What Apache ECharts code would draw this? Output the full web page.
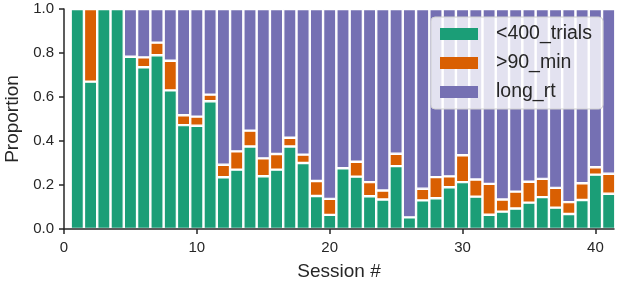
<!DOCTYPE html>
<html>
<head>
    <meta charset="utf-8">
    <title>Session proportions</title>
    <script src="https://cdn.jsdelivr.net/npm/echarts@6/dist/echarts.min.js"></script>
    <style>
        html, body { margin: 0; padding: 0; background: #fff; }
        #main { width: 617px; height: 287px; }
    </style>
</head>
<body>
    <div id="main"></div>
    <script type="text/javascript">
        // session numbers 1..41
        var sessions = [1, 2, 3, 4, 5, 6, 7, 8, 9, 10, 11, 12, 13, 14, 15, 16, 17, 18, 19, 20, 21,
            22, 23, 24, 25, 26, 27, 28, 29, 30, 31, 32, 33, 34, 35, 36, 37, 38, 39, 40, 41];
        // fraction of sessions flagged by each reason
        var trials400 = [1.0, 0.67, 1.0, 1.0, 0.783, 0.735, 0.79, 0.63, 0.472, 0.469, 0.581,
            0.235, 0.27, 0.375, 0.24, 0.27, 0.375, 0.30, 0.15, 0.064, 0.276,
            0.238, 0.149, 0.134, 0.286, 0.053, 0.13, 0.14, 0.19, 0.213, 0.147,
            0.065, 0.079, 0.093, 0.12, 0.145, 0.097, 0.068, 0.132, 0.247, 0.16];
        var min90 = [0, 0.33, 0, 0, 0, 0.045, 0.057, 0.135, 0.045, 0.042, 0.03,
            0.057, 0.083, 0.072, 0.081, 0.071, 0.04, 0.038, 0.068, 0.073, 0,
            0.068, 0.064, 0.041, 0.056, 0, 0.053, 0.096, 0.049, 0.122, 0.078,
            0.14, 0.055, 0.077, 0.095, 0.083, 0.09, 0.054, 0.076, 0.034, 0.091];
        var yTicks = [0, 0.2, 0.4, 0.6, 0.8, 1.0];
        var xTicks = [0, 10, 20, 30, 40];

        var longRt = trials400.map(function (v, i) {
            return Math.max(0, +(1 - v - min90[i]).toFixed(3));
        });

        var myChart = echarts.init(document.getElementById('main'));

        // visible axes run 0..41.4; the bars sit in a second grid whose
        // category bands line up with sessions 0.5..41.5 on that scale
        var W = 617, gridLeft = 64, gridRight = 3, xMax = 41.4;
        var unit = (W - gridLeft - gridRight) / xMax;
        var barLeft = gridLeft + (sessions[0] - 0.5) * unit;
        var barRight = W - (barLeft + sessions.length * unit);

        function barSeries(name, color, arr) {
            return {
                name: name,
                type: 'bar',
                stack: 'all',
                xAxisIndex: 1,
                yAxisIndex: 1,
                barWidth: '100%',
                itemStyle: {
                    color: color,
                    borderColor: '#ffffff',
                    borderWidth: 1.2
                },
                emphasis: { disabled: true },
                data: arr
            };
        }

        var textColor = '#262626';
        var font = 'Liberation Sans, Arial, sans-serif';
        var option = {
            animation: false,
            grid: [
                { left: gridLeft, right: gridRight, top: 9, bottom: 58, outerBoundsMode: 'none', containLabel: false },
                { left: barLeft, right: barRight, top: 9, bottom: 58, outerBoundsMode: 'none', containLabel: false }
            ],
            legend: {
                orient: 'vertical',
                left: 431,
                top: 17,
                padding: [7, 11, 7, 9],
                itemWidth: 38,
                itemHeight: 12,
                itemGap: 9,
                icon: 'rect',
                backgroundColor: 'rgba(255,255,255,0.8)',
                borderColor: '#d0d0d0',
                borderWidth: 1,
                borderRadius: 4,
                itemStyle: { borderWidth: 0 },
                textStyle: {
                    fontFamily: font,
                    fontSize: 19.5,
                    lineHeight: 20,
                    color: textColor,
                    padding: [0, 0, 0, 13]
                },
                data: ['<400_trials', '>90_min', 'long_rt']
            },
            xAxis: [{
                type: 'value',
                gridIndex: 0,
                min: 0,
                max: xMax,
                interval: 10,
                name: 'Session #',
                nameLocation: 'middle',
                nameGap: 33,
                nameTextStyle: { fontFamily: font, fontSize: 19, color: textColor },
                axisLine: { lineStyle: { color: textColor, width: 1.5 } },
                axisTick: { length: 5, lineStyle: { color: textColor, width: 1.5 }, customValues: xTicks },
                axisLabel: {
                    margin: 11,
                    fontFamily: font,
                    fontSize: 15,
                    color: textColor,
                    customValues: xTicks
                },
                splitLine: { show: false },
                z: 10
            }, {
                type: 'category',
                gridIndex: 1,
                data: sessions,
                show: false
            }],
            yAxis: [{
                type: 'value',
                gridIndex: 0,
                min: 0,
                max: 1,
                interval: 0.2,
                name: 'Proportion',
                nameLocation: 'middle',
                nameGap: 41,
                nameTextStyle: { fontFamily: font, fontSize: 19, color: textColor },
                axisLine: { show: true, lineStyle: { color: textColor, width: 1.5 } },
                axisTick: { show: true, length: 5, lineStyle: { color: textColor, width: 1.5 } },
                axisLabel: {
                    margin: 10,
                    fontFamily: font,
                    fontSize: 15,
                    color: textColor,
                    customValues: yTicks,
                    formatter: function (v) { return v.toFixed(1); }
                },
                splitLine: { show: false },
                z: 10
            }, {
                type: 'value',
                gridIndex: 1,
                min: 0,
                max: 1,
                show: false,
                splitLine: { show: false }
            }],
            series: [
                barSeries('<400_trials', '#1b9e77', trials400),
                barSeries('>90_min', '#d95f02', min90),
                barSeries('long_rt', '#7570b3', longRt)
            ]
        };

        myChart.setOption(option);
        window.onresize = myChart.resize;
    </script>
</body>
</html>
